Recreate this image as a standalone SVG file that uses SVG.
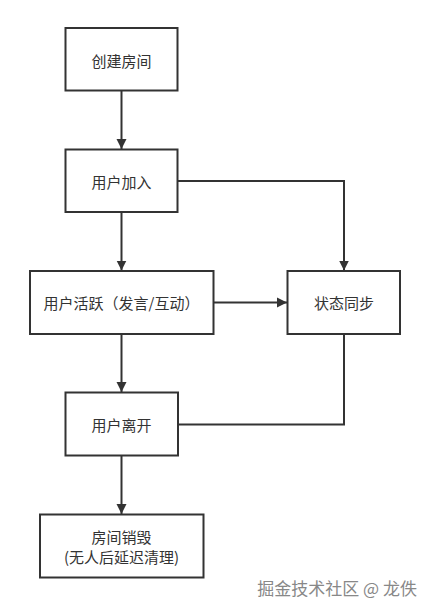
<svg xmlns="http://www.w3.org/2000/svg" width="432" height="614" viewBox="0 0 432 614">
<style>
.box{fill:#fff;stroke:#333;stroke-width:2}
.t{font-family:"Noto Sans CJK SC","Liberation Sans",sans-serif;font-size:15px;fill:#333;text-anchor:middle;dominant-baseline:central}
.c{fill:none;stroke:#333;stroke-width:2}
.wm{font-family:"Noto Sans CJK SC","Liberation Sans",sans-serif;font-size:17px;fill:#888;text-anchor:end}
</style>
<defs>
<marker id="ah" viewBox="0 0 10 10" refX="10" refY="5" markerWidth="5" markerHeight="6" markerUnits="strokeWidth" orient="auto">
<path d="M0,0 L10,5 L0,10 z" fill="#333"/>
</marker>
</defs>
<rect width="432" height="614" fill="#fff"/>
<g id="connectors">
<line class="c" x1="121.5" y1="91" x2="121.5" y2="149" marker-end="url(#ah)"/>
<line class="c" x1="121.5" y1="212" x2="121.5" y2="270.5" marker-end="url(#ah)"/>
<polyline class="c" points="178,181 344,181 344,270.5" marker-end="url(#ah)"/>
<line class="c" x1="213.5" y1="302.5" x2="287" y2="302.5" marker-end="url(#ah)"/>
<line class="c" x1="121.5" y1="334" x2="121.5" y2="392" marker-end="url(#ah)"/>
<polyline class="c" points="344,334 344,424.5 178,424.5"/>
<line class="c" x1="121.5" y1="456" x2="121.5" y2="514" marker-end="url(#ah)"/>
</g>
<g id="create">
<rect class="box" x="65.5" y="28" width="112" height="62.5"/>
<text class="t" x="121.5" y="60">创建房间</text>
</g>
<g id="join">
<rect class="box" x="65.5" y="149.5" width="112" height="62.5"/>
<text class="t" x="121.5" y="181">用户加入</text>
</g>
<g id="active">
<rect class="box" x="30" y="271" width="183.5" height="63"/>
<text class="t" x="121.5" y="302.5">用户活跃（发言/互动）</text>
</g>
<g id="sync">
<rect class="box" x="287.5" y="271" width="112.5" height="63"/>
<text class="t" x="344" y="302.5">状态同步</text>
</g>
<g id="leave">
<rect class="box" x="65.5" y="392.5" width="112.5" height="63"/>
<text class="t" x="121.5" y="424.5">用户离开</text>
</g>
<g id="destroy">
<rect class="box" x="40" y="514.5" width="163.5" height="63"/>
<text class="t" x="121.5" y="536.5">房间销毁</text>
<text class="t" x="121.5" y="556">(无人后延迟清理)</text>
</g>
<text class="wm" x="417" y="595">掘金技术社区 @ 龙佚</text>
</svg>
